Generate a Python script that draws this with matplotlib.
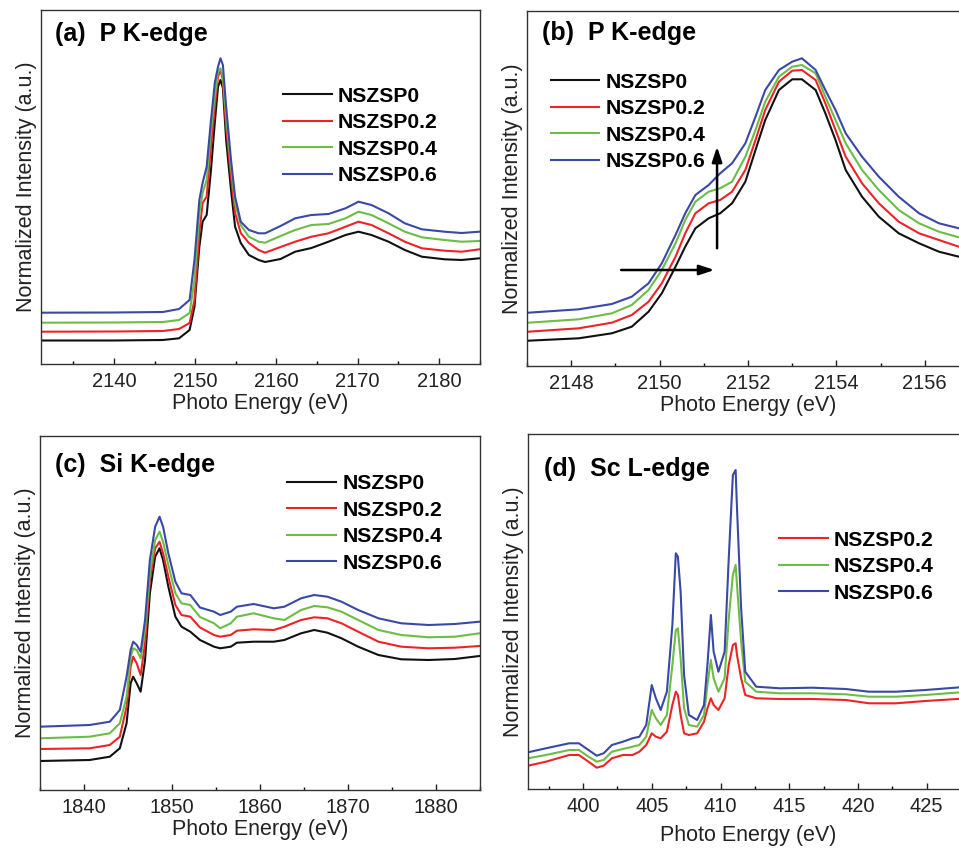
"""XANES spectra of NSZSP samples: P K-edge, Si K-edge and Sc L-edge."""

import matplotlib
matplotlib.use("Agg")
import matplotlib.pyplot as plt
from matplotlib.ticker import MultipleLocator

plt.rcParams["font.family"] = ["Liberation Sans", "DejaVu Sans"]

FIG_W, FIG_H = 959, 849
DPI = 100

LABELS = ["NSZSP0", "NSZSP0.2", "NSZSP0.4", "NSZSP0.6"]
COLORS = ["#111111", "#ee2326", "#6cbd45", "#3a48a6"]

# ── (a) P K-edge, wide range ────────────────────────────────────────────────
xa = [2131, 2140, 2146, 2148, 2149.3, 2149.9, 2150.5, 2150.9, 2151.4, 2151.9,
      2152.4, 2152.8, 2153.1, 2153.4, 2153.8, 2154.4, 2154.9, 2155.6, 2156.6,
      2157.8, 2158.6, 2160.5, 2162.3, 2164.3, 2166.4, 2168.5, 2170.1, 2171.7,
      2173.8, 2175.8, 2177.9, 2180.7, 2182.8, 2185]
a_p0 = [23.5, 23.5, 24, 25.7, 34, 57.3, 117.3, 142.3, 149, 191, 241, 277.3, 284,
        276, 224, 174, 137.3, 121, 109, 104, 102, 105, 112.3, 116, 122.3, 129,
        132.3, 129, 122.3, 114, 107.3, 104.7, 104, 105.7]
a_p02 = [32.3, 32.5, 33, 35, 41, 64, 131, 161, 167.3, 214, 257.3, 287.3, 294,
         284, 237.3, 187.3, 151, 131, 121, 114, 111.3, 117, 122.3, 127.3, 130.7,
         137.3, 142.3, 139, 130.7, 122.3, 115.7, 113.3, 112.3, 114.7]
a_p04 = [41.3, 41.5, 42, 44, 51, 84, 151, 171, 184, 231, 267.3, 292.3, 295.7,
         287.3, 247.3, 197.3, 161, 139, 127.3, 122.3, 121.3, 128, 134, 139, 140,
         145.7, 152.3, 149, 140.7, 132.3, 126.7, 124, 122.3, 123]
a_p06 = [51.3, 51.5, 52, 55, 64, 104, 164, 181, 197.3, 241, 281, 297.3, 305.7,
         299, 257.3, 204, 167.3, 142.3, 134, 130.7, 130.7, 138, 145.7, 149, 150,
         155.7, 162.3, 159, 150.7, 140.7, 134.7, 132.3, 131, 132.3]

# ── (b) P K-edge, zoom on the edge ──────────────────────────────────────────
xb = [2147.03, 2148.17, 2148.92, 2149.37, 2149.75, 2150.05, 2150.36, 2150.58,
      2150.81, 2151.11, 2151.37, 2151.64, 2151.94, 2152.17, 2152.39, 2152.70,
      2153.0, 2153.22, 2153.53, 2153.75, 2153.98, 2154.21, 2154.58, 2154.96,
      2155.41, 2155.87, 2156.32, 2156.77, 2157.0]
b_p0 = [25.3, 27.7, 32.7, 39.3, 54.3, 72.7, 99.3, 119.3, 137.7, 147.7, 152.7,
        162.7, 184.3, 216, 246, 276, 286.7, 286.7, 276, 252.7, 226, 196, 169.3,
        149.3, 132.7, 122.7, 114.3, 109.3, 107.5]
b_p02 = [34.3, 37.7, 43.3, 51, 64.3, 82.7, 109.3, 132.7, 152.7, 162.7, 166,
         174.3, 196, 226, 256, 284.3, 295.3, 296, 286, 262.7, 236, 209.3, 182.7,
         162.7, 144.3, 132.7, 126, 119.3, 117]
b_p04 = [43.3, 46.7, 52.7, 61, 76, 96, 122.7, 146, 164.3, 174.3, 177.7, 184.3,
         209.3, 236, 264.3, 289.3, 299.3, 301, 292.7, 269.3, 246, 222.7, 196,
         176, 156, 142.7, 134.3, 128.7, 126.5]
b_p06 = [53.3, 56.7, 62, 69.3, 82.7, 102.7, 131, 152.7, 171, 181, 192.7, 202.7,
         222.7, 249.3, 276, 296, 304.3, 307.7, 296, 276, 256, 232.7, 209.3,
         189.3, 169.3, 152.7, 142.7, 137.7, 137]

# ── (c) Si K-edge ───────────────────────────────────────────────────────────
xc = [1835, 1840.65, 1842.94, 1844.08, 1844.85, 1845.31, 1845.6, 1846.0,
      1846.45, 1846.95, 1847.5, 1848.1, 1848.6, 1849.0, 1849.6, 1850.4, 1851.1,
      1852.1, 1853.2, 1854.8, 1855.5, 1856.7, 1857.4, 1859.3, 1861.6, 1862.8,
      1864.7, 1866.2, 1867.7, 1869.3, 1871.2, 1873.5, 1876.1, 1879.2, 1882.2,
      1885]
c_p0 = [29, 30, 33.3, 41.7, 66.7, 106.7, 113.3, 106.7, 98.3, 130, 196.7, 233.3,
        241.7, 230, 203.3, 173.3, 163.3, 158.3, 150, 143.3, 141.7, 143.3, 147.3,
        148.3, 148.3, 150, 156.7, 160, 157.3, 151.7, 143.3, 135, 130.7, 130, 131,
        134]
c_p02 = [41, 41.7, 45, 53.3, 83.3, 123.3, 133.3, 126.7, 115, 146.7, 210, 241.7,
         248.3, 236.7, 213.3, 185, 175, 173.3, 162.5, 155, 153.3, 155, 159.3,
         160.7, 160, 163.3, 170, 172.7, 171.7, 166.7, 158.3, 148.3, 143.3, 141.7,
         142.3, 144]
c_p04 = [51.7, 53.3, 56.7, 66.7, 93.3, 133.3, 141.7, 140, 131.7, 160, 216.7, 250,
         258.3, 248.3, 225, 196.7, 186.7, 185, 173, 166.7, 161.7, 166.7, 173.3,
         176.7, 171.7, 170, 180, 184, 182.7, 178.3, 170, 160, 155, 152.7, 153.3,
         156.7]
c_p06 = [63.3, 65, 68.3, 80, 113.3, 140, 148.3, 145, 138.3, 170, 230, 263.3,
         273.3, 263.3, 236.7, 208.3, 196.7, 195, 182.5, 178.3, 175, 178.3, 183.3,
         186, 181.7, 183.3, 191.7, 195, 193.3, 188.3, 180, 171.7, 166.7, 165, 166,
         168.3]

# ── (d) Sc L-edge (no Sc in NSZSP0) ────────────────────────────────────────
xd = [396.0, 397.3, 399.0, 399.7, 400.4, 401.0, 401.5, 402.1, 402.9, 403.6,
      404.1, 404.6, 405.0, 405.3, 405.65, 406.1, 406.5, 406.75, 406.9, 407.1,
      407.35, 407.7, 408.3, 408.8, 409.05, 409.3, 409.5, 409.85, 410.3, 410.6,
      410.9, 411.1, 411.2, 411.5, 411.8, 412.6, 414.3, 416.7, 419.1, 420.8,
      422.75, 424.9, 428.0]
d_p02 = [23.3, 27.3, 34, 34, 27.3, 21.3, 23.3, 30.7, 34, 34, 37.3, 44, 55.7,
         52.3, 50.7, 57.3, 84, 97.3, 94, 74, 55.7, 54, 55.7, 67.3, 80.7, 90.7,
         84, 79, 90.7, 124, 144, 145.7, 134, 110.7, 94, 90.7, 90, 90, 89, 85.7,
         85.7, 88, 90.7]
d_p04 = [30.7, 34, 39, 39, 32.3, 27.3, 29, 37.3, 40, 42.3, 44, 52.3, 79, 70.7,
         64, 74, 124, 159, 160.7, 130.7, 80.7, 64, 62.3, 74, 104, 129, 110.7,
         97.3, 110.7, 170.7, 214, 224, 204, 147.3, 107.3, 97.3, 95.7, 95.7, 94.7,
         92.3, 92.3, 94, 97.3]
d_p06 = [36.7, 40.7, 45.7, 45.7, 39, 33.3, 35.7, 44, 47.3, 50.7, 52.3, 64, 104,
         90.7, 79, 97.3, 164, 235.7, 232.3, 197.3, 114, 74, 69, 84, 124, 174,
         137.3, 117.3, 137.3, 230.7, 314, 319, 280.7, 180.7, 117.3, 102.3, 100.7,
         101.3, 100, 97.3, 97.3, 99, 102.3]


def px_axes(fig, left, right, top, bottom):
    """Axes placed by pixel edges (top-left origin)."""
    return fig.add_axes([left / FIG_W, 1 - bottom / FIG_H,
                         (right - left) / FIG_W, (bottom - top) / FIG_H])


def style_panel(ax, title, title_xy, xlim, height, major, minor, legend_xy,
                handles_idx, labelpad=1):
    ax.set_xlim(*xlim)
    ax.set_ylim(0, height)
    ax.set_yticks([])
    ax.xaxis.set_major_locator(MultipleLocator(major))
    ax.xaxis.set_minor_locator(MultipleLocator(minor))
    ax.tick_params(axis="x", which="major", direction="in", length=4,
                   width=1, labelsize=14.5, pad=6, colors="#222222")
    ax.tick_params(axis="x", which="minor", direction="in", length=2.5, width=1)
    for sp in ax.spines.values():
        sp.set_linewidth(1.0)
        sp.set_color("#333333")
    ax.set_xlabel("Photo Energy (eV)", fontsize=15.5, labelpad=labelpad,
                  color="#222222")
    ax.set_ylabel("Normalized Intensity (a.u.)", fontsize=15.5, labelpad=3,
                  color="#222222")
    ax.text(title_xy[0], title_xy[1], title, transform=ax.transAxes,
            fontsize=18, fontweight="bold", va="baseline", ha="left")
    lines = ax.get_lines()
    ax.legend([lines[i] for i in handles_idx],
              [lines[i].get_label() for i in handles_idx],
              loc="upper left",
              bbox_to_anchor=(legend_xy[0] / FIG_W, 1 - legend_xy[1] / FIG_H),
              bbox_transform=ax.figure.transFigure,
              frameon=False, borderpad=0, borderaxespad=0,
              handlelength=2.3, handletextpad=0.3, labelspacing=0.36,
              prop={"weight": "bold", "size": 15.2})


fig = plt.figure(figsize=(FIG_W / DPI, FIG_H / DPI), dpi=DPI)
LW = 1.5

# (a)
ax = px_axes(fig, 41, 479.5, 10, 364)
for y, lab, col in zip([a_p0, a_p02, a_p04, a_p06], LABELS, COLORS):
    ax.plot(xa, y, color=col, lw=LW, label=lab)
style_panel(ax, "(a)  P K-edge", (0.032, 0.913), (2131, 2185), 354, 10, 5,
            (283, 86.5), [0, 1, 2, 3])

# (b)
ax = px_axes(fig, 527, 969, 11, 366)
for y, lab, col in zip([b_p0, b_p02, b_p04, b_p06], LABELS, COLORS):
    ax.plot(xb, y, color=col, lw=LW, label=lab)
style_panel(ax, "(b)  P K-edge", (0.035, 0.918), (2147, 2157), 355, 2, 1,
            (550.7, 72.5), [0, 1, 2, 3])
arrow = dict(arrowstyle="-|>,head_length=0.9,head_width=0.3", color="black",
             lw=1.8, shrinkA=0, shrinkB=0)
ax.annotate("", xy=(2151.24, 96), xytext=(2149.13, 96), arrowprops=arrow)
ax.annotate("", xy=(2151.30, 219.3), xytext=(2151.30, 117.7), arrowprops=arrow)

# (c)
ax = px_axes(fig, 40, 479.5, 436, 790)
for y, lab, col in zip([c_p0, c_p02, c_p04, c_p06], LABELS, COLORS):
    ax.plot(xc, y, color=col, lw=LW, label=lab)
style_panel(ax, "(c)  Si K-edge", (0.034, 0.899), (1835, 1885), 354, 10, 5,
            (287.3, 474), [0, 1, 2, 3])

# (d)
ax = px_axes(fig, 528, 968, 434, 789)
for y, lab, col in zip([d_p02, d_p04, d_p06], LABELS[1:], COLORS[1:]):
    ax.plot(xd, y, color=col, lw=LW, label=lab)
style_panel(ax, "(d)  Sc L-edge", (0.036, 0.883), (396, 428), 355, 5, 2.5,
            (779, 530.5), [0, 1, 2], labelpad=6.5)

fig.savefig("out.png", dpi=DPI)
